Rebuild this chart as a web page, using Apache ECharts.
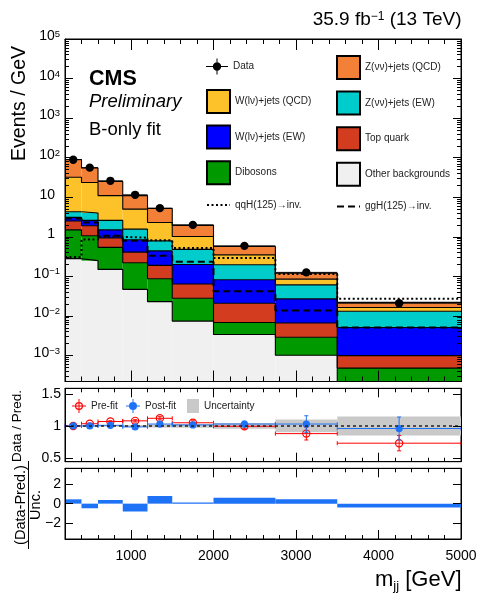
<!DOCTYPE html>
<html>
<head>
<meta charset="utf-8">
<script src="https://cdn.jsdelivr.net/npm/echarts@6/dist/echarts.min.js"></script>
<style>
html, body { margin: 0; padding: 0; background: #fff; }
#chart { width: 481px; height: 595px; }
</style>
</head>
<body>
<div id="chart"></div>
<script>
// ---- binning and yields (events / GeV) ----
const binEdges = [200, 400, 600, 900, 1200, 1500, 2000, 2750, 3500, 5000];
const dataYield = [89, 56, 26, 11.5, 5.3, 2.0, 0.59, 0.126, 0.021];
const dataUnc = [0.7, 0.5, 0.3, 0.2, 0.13, 0.06, 0.028, 0.013, 0.004];

// background contributions, listed bottom of the stack first
const otherBkg = [0.28, 0.25, 0.15, 0.047, 0.023, 0.0074, 0.0034, 0.00101, 0.0001];
const dibosons = [1.22, 0.81, 0.39, 0.173, 0.064, 0.0206, 0.0034, 0.00189, 0.00038];
const topQuark = [1.0, 0.84, 0.39, 0.19, 0.103, 0.036, 0.0142, 0.0037, 0.00051];
const wjetsEW = [0.6, 0.7, 0.57, 0.43, 0.25, 0.136, 0.061, 0.0204, 0.0041];
const zjetsEW = [1.2, 1.4, 1.1, 0.72, 0.35, 0.28, 0.114, 0.034, 0.008];
const wjetsQCD = [27.7, 19.5, 8.4, 3.44, 1.51, 0.54, 0.154, 0.024, 0.0032];
const zjetsQCD = [58, 31.5, 14, 6.0, 2.9, 0.93, 0.22, 0.035, 0.0057];

// signal shapes (not stacked)
const qqHinv = [0.31, 0.86, 1.0, 0.95, 0.82, 0.52, 0.29, 0.114, 0.027];
const ggHinv = [2.9, 2.3, 1.06, 0.8, 0.33, 0.235, 0.042, 0.0138, 0.0051];

// ratio panel
const ratioPre = [1.0, 1.035, 1.07, 1.08, 1.12, 1.05, 0.995, 0.88, 0.73];
const ratioPreUnc = [0.008, 0.01, 0.012, 0.018, 0.025, 0.03, 0.04, 0.1, 0.12];
const ratioPost = [1.0, 1.0, 1.01, 0.985, 1.03, 1.016, 1.03, 1.03, 0.96];
const ratioPostUnc = [0.008, 0.01, 0.012, 0.018, 0.025, 0.03, 0.045, 0.13, 0.18];
const fitUnc = [0.01, 0.01, 0.012, 0.015, 0.025, 0.03, 0.045, 0.1, 0.15];

// pull panel
const pulls = [0.44, -0.47, 0.37, -0.8, 0.78, 0.12, 0.6, 0.45, -0.4];

// tick labels
const massTicks = [1000, 2000, 3000, 4000, 5000];
const eventTicks = [1e-3, 1e-2, 1e-1, 1, 10, 100, 1e3, 1e4, 1e5];
const ratioTicks = [0.5, 1, 1.5];
const pullTicks = [-2, 0, 2];

const F = 'Liberation Sans';
const BLUE = '#1e72f5';

// minor ticks of the log axis: 2..9 times each decade
const eventMinor = [];
for (let e = -4; e <= 4; e++) {
  for (let m = 2; m <= 9; m++) {
    const v = m * Math.pow(10, e);
    if (v >= 2.2e-4 && v < 1e5) eventMinor.push(v);
  }
}

const processes = [
  { name: 'Other backgrounds', color: '#f0f0f0', values: otherBkg },
  { name: 'Dibosons', color: '#009900', values: dibosons },
  { name: 'Top quark', color: '#d43c1f', values: topQuark },
  { name: 'W(lν)+jets (EW)', color: '#0000ff', values: wjetsEW },
  { name: 'Z(νν)+jets (EW)', color: '#00cccc', values: zjetsEW },
  { name: 'W(lν)+jets (QCD)', color: '#fdc22a', values: wjetsQCD },
  { name: 'Z(νν)+jets (QCD)', color: '#f38037', values: zjetsQCD }
];

// cumulative stack levels
let running = binEdges.slice(0, -1).map(() => 1e-9);
processes.forEach(p => {
  p.lower = running.slice();
  p.upper = running.map((v, i) => (v > 1e-8 ? v : 0) + p.values[i]);
  running = p.upper;
});

function binRows(...cols) {
  return binEdges.slice(0, -1).map((x0, i) => [x0, binEdges[i + 1]].concat(cols.map(c => c[i])));
}

function clipRect(p0, p1, params) {
  const cs = params.coordSys;
  return echarts.graphic.clipRectByRect(
    { x: Math.min(p0[0], p1[0]), y: Math.min(p0[1], p1[1]), width: Math.abs(p1[0] - p0[0]), height: Math.abs(p1[1] - p0[1]) },
    { x: cs.x, y: cs.y, width: cs.width, height: cs.height }
  );
}

function fillSeries(p) {
  return {
    type: 'custom', name: p.name, xAxisIndex: 0, yAxisIndex: 0,
    data: binRows(p.lower, p.upper),
    itemStyle: { color: p.color, borderColor: '#000', borderWidth: 1 },
    renderItem(params, api) {
      const a = api.coord([api.value(0), api.value(3)]);
      const b = api.coord([api.value(1), api.value(2)]);
      const shape = clipRect(a, b, params);
      return shape && { type: 'rect', shape, style: { fill: p.color } };
    }
  };
}

function stepPoints(values) {
  const pts = binEdges.slice(0, -1).map((x, i) => [x, values[i]]);
  pts.push([binEdges[binEdges.length - 1], values[values.length - 1]]);
  return pts;
}

function stepSeries(name, values, lineStyle) {
  return {
    type: 'line', name, xAxisIndex: 0, yAxisIndex: 0, step: 'end',
    data: stepPoints(values), symbol: 'none', showSymbol: false, silent: true,
    clip: true, lineStyle, itemStyle: { color: lineStyle.color }
  };
}

function errorMarker(color, radius, open, capW) {
  return function (params, api) {
    const x0 = api.value(0), x1 = api.value(1), v = api.value(2), e = api.value(3);
    const xm = (x0 + x1) / 2;
    const pl = api.coord([x0, v]), pr = api.coord([x1, v]), pc = api.coord([xm, v]);
    const pt = api.coord([xm, v + e]), pb = api.coord([xm, v - e]);
    const st = { stroke: color, lineWidth: 1 };
    const kids = [
      { type: 'line', shape: { x1: pl[0], y1: pl[1], x2: pr[0], y2: pr[1] }, style: st },
      { type: 'line', shape: { x1: pc[0], y1: pt[1], x2: pc[0], y2: pb[1] }, style: st }
    ];
    if (capW) {
      kids.push(
        { type: 'line', shape: { x1: pl[0], y1: pl[1] - capW, x2: pl[0], y2: pl[1] + capW }, style: st },
        { type: 'line', shape: { x1: pr[0], y1: pr[1] - capW, x2: pr[0], y2: pr[1] + capW }, style: st },
        { type: 'line', shape: { x1: pc[0] - capW, y1: pt[1], x2: pc[0] + capW, y2: pt[1] }, style: st },
        { type: 'line', shape: { x1: pc[0] - capW, y1: pb[1], x2: pc[0] + capW, y2: pb[1] }, style: st }
      );
    }
    kids.push({ type: 'circle', shape: { cx: pc[0], cy: pc[1], r: radius },
      style: open ? { fill: 'none', stroke: color, lineWidth: 1.2 } : { fill: color } });
    return { type: 'group', children: kids };
  };
}

// ---- axes ----
const lineBlack = { color: '#000', width: 1 };
function xAxisPair(grid, pos, majorLen, minorLen, labels) {
  const base = {
    type: 'value', gridIndex: grid, position: pos, min: 200, max: 5000, interval: 200, z: 10,
    splitLine: { show: false }
  };
  return [
    Object.assign({}, base, {
      axisLine: { show: true, onZero: false, lineStyle: lineBlack },
      axisTick: { show: true, inside: true, length: minorLen, lineStyle: lineBlack },
      axisLabel: { show: false }
    }),
    Object.assign({}, base, {
      axisLine: { show: false, onZero: false },
      axisTick: { show: true, inside: true, length: majorLen, customValues: massTicks, lineStyle: lineBlack },
      axisLabel: labels ? {
        show: true, customValues: massTicks, margin: 10, fontSize: 14, fontFamily: F, color: '#000',
        formatter: v => String(v)
      } : { show: false }
    })
  ];
}

const xAxes = [].concat(
  xAxisPair(0, 'bottom', 11, 5, false),
  xAxisPair(0, 'top', 11, 5, false),
  xAxisPair(1, 'bottom', 9, 4, false),
  xAxisPair(1, 'top', 9, 4, false),
  xAxisPair(2, 'bottom', 9, 4, true),
  xAxisPair(2, 'top', 9, 4, false)
);
// series axes: 0 (main), 4 (ratio), 8 (pull)

function logLabel(v) {
  const e = Math.round(Math.log10(v));
  if (e === 0) return '{p|1}';
  if (e === 1) return '{p|10}';
  return '{b|10}{s|' + String(e).replace('-', '\u2212') + '}';
}

const mainLog = { type: 'log', logBase: 10, gridIndex: 0, min: 2.2e-4, max: 1e5, z: 10, splitLine: { show: false } };
const yAxes = [
  Object.assign({}, mainLog, {
    position: 'left',
    axisLine: { show: true, onZero: false, lineStyle: lineBlack },
    axisTick: { show: true, inside: true, length: 8, customValues: eventTicks, lineStyle: lineBlack },
    axisLabel: {
      show: true, customValues: eventTicks, formatter: logLabel, margin: 5, padding: [0, 0, 5, 0],
      rich: {
        b: { fontSize: 14, fontFamily: F, color: '#000', lineHeight: 14, padding: [5, 0, 0, 0], verticalAlign: 'bottom' },
        s: { fontSize: 9.5, fontFamily: F, color: '#000', lineHeight: 10, verticalAlign: 'top' },
        p: { fontSize: 14, fontFamily: F, color: '#000', lineHeight: 14, padding: [5, 5, 0, 0], verticalAlign: 'bottom' }
      }
    }
  }),
  Object.assign({}, mainLog, {
    position: 'left', axisLine: { show: false, onZero: false },
    axisTick: { show: true, inside: true, length: 4, customValues: eventMinor, lineStyle: lineBlack },
    axisLabel: { show: false }
  }),
  Object.assign({}, mainLog, {
    position: 'right', axisLine: { show: true, onZero: false, lineStyle: lineBlack },
    axisTick: { show: true, inside: true, length: 8, customValues: eventTicks, lineStyle: lineBlack },
    axisLabel: { show: false }
  }),
  Object.assign({}, mainLog, {
    position: 'right', axisLine: { show: false, onZero: false },
    axisTick: { show: true, inside: true, length: 4, customValues: eventMinor, lineStyle: lineBlack },
    axisLabel: { show: false }
  }),
  {
    type: 'value', gridIndex: 1, position: 'left', min: 0.44, max: 1.59, z: 10, splitLine: { show: false },
    axisLine: { show: true, onZero: false, lineStyle: lineBlack },
    axisTick: { show: true, inside: true, length: 8, customValues: ratioTicks, lineStyle: lineBlack },
    axisLabel: { show: true, customValues: ratioTicks, margin: 4, fontSize: 14, fontFamily: F, color: '#000' }
  },
  {
    type: 'value', gridIndex: 1, position: 'right', min: 0.44, max: 1.59, z: 10, splitLine: { show: false },
    axisLine: { show: true, onZero: false, lineStyle: lineBlack },
    axisTick: { show: true, inside: true, length: 8, customValues: ratioTicks, lineStyle: lineBlack },
    axisLabel: { show: false }
  },
  {
    type: 'value', gridIndex: 2, position: 'left', min: -3.6, max: 3.6, z: 10, splitLine: { show: false },
    axisLine: { show: true, onZero: false, lineStyle: lineBlack },
    axisTick: { show: true, inside: true, length: 8, customValues: pullTicks, lineStyle: lineBlack },
    axisLabel: {
      show: true, customValues: pullTicks, margin: 4, fontSize: 14, fontFamily: F, color: '#000',
      formatter: v => String(v).replace('-', '\u2212')
    }
  },
  {
    type: 'value', gridIndex: 2, position: 'right', min: -3.6, max: 3.6, z: 10, splitLine: { show: false },
    axisLine: { show: true, onZero: false, lineStyle: lineBlack },
    axisTick: { show: true, inside: true, length: 8, customValues: pullTicks, lineStyle: lineBlack },
    axisLabel: { show: false }
  }
];

// ---- series ----
const series = [];
processes.forEach(p => series.push(fillSeries(p)));
processes.forEach(p => series.push(stepSeries('stack outline', p.upper, { color: '#000', width: 1.1 })));
series.push(stepSeries('qqH(125)\u2192inv.', qqHinv, { color: '#000', width: 2, type: [2, 2.5] }));
series.push(stepSeries('ggH(125)\u2192inv.', ggHinv, { color: '#000', width: 2, type: [7, 4] }));
series.push({
  type: 'custom', name: 'Data', xAxisIndex: 0, yAxisIndex: 0,
  data: binRows(dataYield, dataUnc), itemStyle: { color: '#000' },
  renderItem: errorMarker('#000', 4.2, false, 0)
});

// ratio panel
series.push({
  type: 'custom', name: 'Uncertainty', xAxisIndex: 4, yAxisIndex: 4,
  data: binRows(fitUnc), itemStyle: { color: '#c9c9c9' },
  renderItem(params, api) {
    const x0 = api.value(0), x1 = api.value(1), u = api.value(2);
    const shape = clipRect(api.coord([x0, 1 + u]), api.coord([x1, 1 - u]), params);
    return shape && { type: 'rect', shape, style: { fill: '#c9c9c9' } };
  }
});
series.push({
  type: 'line', name: 'unity', xAxisIndex: 4, yAxisIndex: 4, data: [[200, 1], [5000, 1]],
  symbol: 'none', silent: true, lineStyle: { color: '#222', width: 1.5, type: [3, 3] }
});
series.push({
  type: 'custom', name: 'Pre-fit', xAxisIndex: 4, yAxisIndex: 4,
  data: binRows(ratioPre, ratioPreUnc), itemStyle: { color: '#ff0000' },
  renderItem: errorMarker('#ff0000', 3.6, true, 2)
});
series.push({
  type: 'custom', name: 'Post-fit', xAxisIndex: 4, yAxisIndex: 4,
  data: binRows(ratioPost, ratioPostUnc), itemStyle: { color: BLUE },
  renderItem: errorMarker(BLUE, 3.6, false, 2)
});

// pull panel
series.push({
  type: 'custom', name: 'pull', xAxisIndex: 8, yAxisIndex: 6,
  data: binRows(pulls), itemStyle: { color: BLUE },
  renderItem(params, api) {
    const shape = clipRect(api.coord([api.value(0), api.value(2)]), api.coord([api.value(1), 0]), params);
    return shape && { type: 'rect', shape, style: { fill: BLUE } };
  }
});

// ---- legends ----
const legText = { fontFamily: F, fontSize: 10, color: '#222' };
const legBase = { orient: 'vertical', padding: 0, selectedMode: false, textStyle: legText, itemGap: 10.6 };
const boxItem = n => ({ name: n, icon: 'rect' });
const lineItem = n => ({ name: n, itemStyle: { color: 'rgba(0,0,0,0)', borderWidth: 0, opacity: 0 } });
const dataIcon = 'path://M0,7.5L22,7.5L22,8.5L0,8.5Z M10.5,0L11.5,0L11.5,16L10.5,16Z M15.2,8A4.2,4.2 0 1,1 6.8,8A4.2,4.2 0 1,1 15.2,8Z';
const preIcon = 'path://M0,6.5L14,6.5L14,7.5L0,7.5Z M6.5,0L7.5,0L7.5,14L6.5,14Z M11,7A4,4 0 1,1 3,7A4,4 0 1,1 11,7Z M9.8,7A2.8,2.8 0 1,0 4.2,7A2.8,2.8 0 1,0 9.8,7Z';
const postIcon = 'path://M0,6.5L14,6.5L14,7.5L0,7.5Z M6.5,0L7.5,0L7.5,14L6.5,14Z M11,7A4,4 0 1,1 3,7A4,4 0 1,1 11,7Z';

const legends = [
  Object.assign({}, legBase, { left: 206, top: 58.5, itemWidth: 22, itemHeight: 16, data: [{ name: 'Data', icon: dataIcon }] }),
  Object.assign({}, legBase, {
    left: 206, top: 89, itemWidth: 23, itemHeight: 23,
    data: [boxItem('W(lν)+jets (QCD)'), boxItem('W(lν)+jets (EW)'), boxItem('Dibosons'), lineItem('qqH(125)\u2192inv.')]
  }),
  Object.assign({}, legBase, {
    left: 336, top: 55, itemWidth: 23, itemHeight: 23,
    data: [boxItem('Z(νν)+jets (QCD)'), boxItem('Z(νν)+jets (EW)'), boxItem('Top quark'), boxItem('Other backgrounds'), lineItem('ggH(125)\u2192inv.')]
  }),
  Object.assign({}, legBase, { left: 72, top: 399, itemWidth: 14, itemHeight: 14, data: [{ name: 'Pre-fit', icon: preIcon }] }),
  Object.assign({}, legBase, { left: 126, top: 399, itemWidth: 14, itemHeight: 14, data: [{ name: 'Post-fit', icon: postIcon }] }),
  Object.assign({}, legBase, { left: 187, top: 399, itemWidth: 12, itemHeight: 14, data: [{ name: 'Uncertainty', icon: 'rect', itemStyle: { borderWidth: 0 } }] })
];

// ---- free text ----
const graphic = [
  { type: 'text', x: 461.5, y: 20, style: {
      text: '{a|35.9 fb}{s|\u22121}{a| (13 TeV)}', align: 'right', verticalAlign: 'middle',
      rich: {
        a: { fontSize: 19, fontFamily: F, fill: '#000', lineHeight: 19, padding: [5, 0, 0, 0], verticalAlign: 'bottom' },
        s: { fontSize: 12, fontFamily: F, fill: '#000', lineHeight: 12, verticalAlign: 'top' }
      } } },
  { type: 'text', x: 89, y: 79, style: { text: 'CMS', fontFamily: F, fontWeight: 'bold', fontSize: 21.5, fill: '#000', verticalAlign: 'middle' } },
  { type: 'text', x: 89, y: 102, style: { text: 'Preliminary', fontFamily: F, fontStyle: 'italic', fontSize: 18.5, fill: '#000', verticalAlign: 'middle' } },
  { type: 'text', x: 89, y: 130, style: { text: 'B-only fit', fontFamily: F, fontSize: 18.5, fill: '#000', verticalAlign: 'middle' } },
  { type: 'text', x: 20, y: 46, rotation: Math.PI / 2, style: { text: 'Events / GeV', fontFamily: F, fontSize: 19.5, fill: '#000', align: 'right', verticalAlign: 'middle' } },
  { type: 'text', x: 17, y: 426, rotation: Math.PI / 2, style: { text: 'Data / Pred.', fontFamily: F, fontSize: 13.5, fill: '#000', align: 'center', verticalAlign: 'middle' } },
  { type: 'text', x: 21, y: 505, rotation: Math.PI / 2, style: { text: '(Data-Pred.)', fontFamily: F, fontSize: 14.5, fill: '#000', align: 'center', verticalAlign: 'middle' } },
  { type: 'line', shape: { x1: 28.5, y1: 461, x2: 28.5, y2: 549 }, style: { stroke: '#000', lineWidth: 1 } },
  { type: 'text', x: 35.5, y: 505, rotation: Math.PI / 2, style: { text: 'Unc.', fontFamily: F, fontSize: 14.5, fill: '#000', align: 'center', verticalAlign: 'middle' } },
  { type: 'text', x: 461.5, y: 569, style: {
      text: '{m|m}{j|jj}{m| [GeV]}', align: 'right', verticalAlign: 'top',
      rich: {
        m: { fontSize: 22, fontFamily: F, fill: '#000', lineHeight: 22, verticalAlign: 'top' },
        j: { fontSize: 13, fontFamily: F, fill: '#000', lineHeight: 13, padding: [11, 0, 0, 0], verticalAlign: 'top' }
      } } }
];

const chart = echarts.init(document.getElementById('chart'), null, { renderer: 'canvas' });
chart.setOption({
  animation: false,
  backgroundColor: '#fff',
  textStyle: { fontFamily: F },
  grid: [
    { left: 65, top: 39, width: 396, height: 342.5, show: true, borderColor: '#000', borderWidth: 1, backgroundColor: 'transparent', outerBoundsMode: 'none' },
    { left: 65, top: 388.3, width: 396, height: 73.4, show: true, borderColor: '#000', borderWidth: 1, backgroundColor: 'transparent', outerBoundsMode: 'none' },
    { left: 65, top: 468.3, width: 396, height: 70.7, show: true, borderColor: '#000', borderWidth: 1, backgroundColor: 'transparent', outerBoundsMode: 'none' }
  ],
  xAxis: xAxes,
  yAxis: yAxes,
  legend: legends,
  series,
  graphic
});
</script>
</body>
</html>
